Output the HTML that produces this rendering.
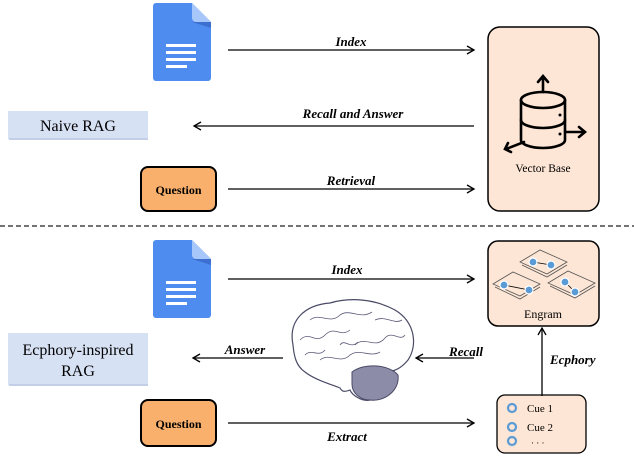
<!DOCTYPE html>
<html><head><style>
html,body{margin:0;padding:0;background:#fff;}
svg text{font-family:"Liberation Serif",serif;}
</style></head><body>
<svg width="634" height="455" viewBox="0 0 634 455" xmlns="http://www.w3.org/2000/svg">
<defs>
<marker id="ah" markerWidth="10" markerHeight="10" refX="8" refY="5" orient="auto" markerUnits="userSpaceOnUse">
<path d="M1,1 L8,5 L1,9" fill="none" stroke="#000" stroke-width="1.3"/>
</marker>
<g id="doc">
<path d="M4,0 H40 L59,19 V75 a3,3 0 0 1 -3,3 H4 a3,3 0 0 1 -3,-3 V3 a3,3 0 0 1 3,-3z" fill="#4f8cf0"/>
<path d="M40,0 L59,19 H44 a4,4 0 0 1 -4,-4z" fill="#a7c6fa"/>
<path d="M40,19 H59 V25z" fill="#3d6fd0"/>
<rect x="14" y="41" width="30" height="3" fill="#fff"/>
<rect x="14" y="48" width="30" height="3" fill="#fff"/>
<rect x="14" y="55" width="30" height="3" fill="#fff"/>
<rect x="14" y="62" width="21" height="3" fill="#fff"/>
</g>
</defs>

<!-- top section -->
<use href="#doc" x="152" y="3"/>
<rect x="8" y="111" width="140" height="28" fill="#d7e1f4"/>
<rect x="9" y="138" width="139" height="2" fill="#c3cfe8"/>
<text x="78" y="131" font-size="16" text-anchor="middle">Naive RAG</text>
<rect x="141" y="167" width="75" height="44" rx="7" fill="#f9b06c" stroke="#000" stroke-width="2"/>
<text x="178.5" y="194" font-size="12" font-weight="bold" text-anchor="middle">Question</text>

<rect x="488" y="27" width="111" height="184" rx="12" fill="#fde6d5" stroke="#000" stroke-width="1.5"/>
<g fill="none" stroke="#000" stroke-width="2.6" stroke-linecap="round">
<ellipse cx="543" cy="100" rx="22" ry="8"/>
<path d="M521,100 V140 a22,8 0 0 0 44,0 V100"/>
<path d="M521,120 a22,8 0 0 0 44,0"/>
<path d="M543,92 V77 M538,82 L543,76 L548,82"/>
<path d="M565,132 H584 M579,127 L585,132 L579,137"/>
<path d="M524,142 L506,149 M508,143 L505,149 L511,152"/>
</g>
<circle cx="560" cy="115" r="1.5"/><circle cx="560" cy="134" r="1.5"/>
<text x="543" y="172" font-size="11.5" text-anchor="middle">Vector Base</text>

<g stroke="#000" stroke-width="1.3">
<line x1="228" y1="50" x2="474" y2="50" marker-end="url(#ah)"/>
<line x1="474" y1="126" x2="194" y2="126" marker-end="url(#ah)"/>
<line x1="228" y1="189" x2="474" y2="189" marker-end="url(#ah)"/>
</g>
<g font-size="13" font-weight="bold" font-style="italic" text-anchor="middle">
<text x="351" y="46">Index</text>
<text x="353" y="118">Recall and Answer</text>
<text x="351" y="185">Retrieval</text>
</g>

<line x1="0" y1="226" x2="634" y2="226" stroke="#222" stroke-width="1.3" stroke-dasharray="5,3"/>

<!-- bottom section -->
<use href="#doc" x="152" y="240"/>
<rect x="8" y="333" width="140" height="52" fill="#d7e1f4"/>
<rect x="9" y="384" width="139" height="2" fill="#c3cfe8"/>
<text x="78" y="355" font-size="16" text-anchor="middle">Ecphory-inspired</text>
<text x="78" y="376" font-size="16" text-anchor="middle">RAG</text>
<rect x="141" y="400" width="75" height="46" rx="7" fill="#f9b06c" stroke="#000" stroke-width="2"/>
<text x="178.5" y="428" font-size="12" font-weight="bold" text-anchor="middle">Question</text>

<rect x="488" y="241" width="111" height="85" rx="10" fill="#fde6d5" stroke="#000" stroke-width="1.5"/>
<g stroke="#555" stroke-width="0.8" fill="none">
<path d="M520,262 L540,250 L567,262 L547,274z"/><path d="M522,265 L547,277 L567,265"/>
<path d="M493,284 L513,272 L540,284 L520,296z"/><path d="M495,287 L520,299 L540,287"/>
<path d="M548,283 L568,271 L595,283 L575,295z"/><path d="M550,286 L575,298 L595,286"/>
</g>
<g stroke="#000" stroke-width="0.8"><line x1="533" y1="262" x2="551" y2="265"/><line x1="504" y1="285" x2="529" y2="290"/><line x1="565" y1="282" x2="575" y2="292"/></g>
<g fill="#5b9bd5" stroke="#fff" stroke-width="1.2">
<circle cx="533" cy="262" r="4"/><circle cx="551" cy="265" r="4"/>
<circle cx="504" cy="285" r="4"/><circle cx="529" cy="290" r="4"/>
<circle cx="565" cy="282" r="4"/><circle cx="575" cy="292" r="4"/>
</g>
<text x="543" y="318" font-size="12" text-anchor="middle">Engram</text>

<rect x="497" y="395" width="89" height="58" rx="8" fill="#fde6d5" stroke="#000" stroke-width="1.3"/>
<g fill="none" stroke="#5b9bd5" stroke-width="2.2">
<circle cx="512" cy="408" r="4"/><circle cx="512" cy="427" r="4"/><circle cx="512" cy="441" r="4"/>
</g>
<text x="527" y="412" font-size="11">Cue 1</text>
<text x="527" y="431" font-size="11">Cue 2</text>
<text x="531" y="446" font-size="9">· · ·</text>

<!-- brain -->
<g stroke="#4a4a66" stroke-width="1.2" fill="#fff">
<path d="M293,345 C288,320 305,305 330,303 C350,297 375,299 395,310 C415,322 418,345 408,360 C400,370 392,372 385,372 C395,385 385,400 370,400 C362,402 352,395 350,390 C345,392 342,392 340,388 C333,385 315,380 305,372 C296,366 294,356 293,345z"/>
</g>
<path d="M352,372 C365,362 390,365 398,375 C400,390 385,402 370,400 C360,400 352,393 352,384z" fill="#8d8ca8" stroke="#4a4a66" stroke-width="1"/>
<g stroke="#5a5a78" stroke-width="0.8" fill="none">
<path d="M300,340 C310,330 315,345 325,335 C335,325 340,338 350,330"/>
<path d="M310,320 C320,312 330,325 340,315 C350,308 360,320 372,312"/>
<path d="M355,345 C365,335 375,350 385,338 C392,330 400,342 405,335"/>
<path d="M320,360 C330,352 340,365 350,355 C360,348 370,358 380,352"/>
<path d="M375,320 C385,315 395,325 402,320"/>
<path d="M305,355 C312,348 318,358 325,350"/>
<path d="M340,345 C345,338 350,350 358,342"/>
</g>

<g stroke="#000" stroke-width="1.3">
<line x1="228" y1="279" x2="474" y2="279" marker-end="url(#ah)"/>
<line x1="474" y1="358" x2="416" y2="358" marker-end="url(#ah)"/>
<line x1="283" y1="358" x2="193" y2="358" marker-end="url(#ah)"/>
<line x1="228" y1="423" x2="474" y2="423" marker-end="url(#ah)"/>
<line x1="542" y1="396" x2="542" y2="328" marker-end="url(#ah)"/>
</g>
<g font-size="13" font-weight="bold" font-style="italic">
<text x="347" y="274" text-anchor="middle">Index</text>
<text x="466" y="356" text-anchor="middle">Recall</text>
<text x="245" y="354" text-anchor="middle">Answer</text>
<text x="347" y="441" text-anchor="middle">Extract</text>
<text x="550" y="364">Ecphory</text>
</g>
</svg>
</body></html>
